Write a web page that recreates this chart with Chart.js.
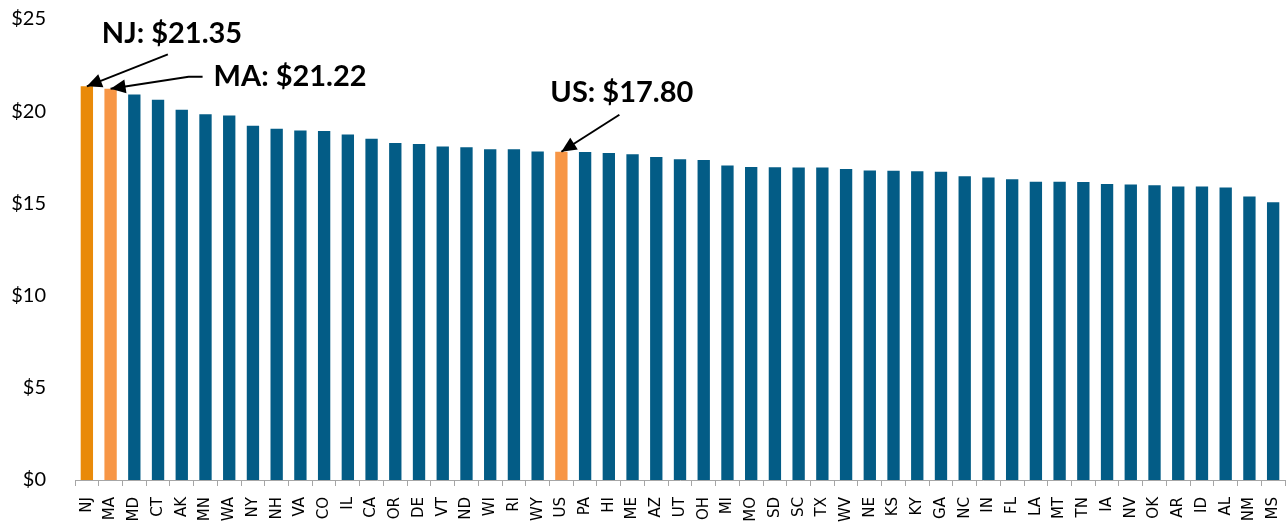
<!DOCTYPE html>
<html>
<head>
<meta charset="utf-8">
<script src="https://cdn.jsdelivr.net/npm/chart.js@4.4.1/dist/chart.umd.min.js"></script>
<style>
  html, body { margin: 0; padding: 0; background: #ffffff; }
  #wrap { width: 1288px; height: 525px; position: relative; }
</style>
</head>
<body>
<div id="wrap"><canvas id="c" width="1288" height="525"></canvas></div>
<script>
const states = ["NJ","MA","MD","CT","AK","MN","WA","NY","NH","VA","CO","IL","CA","OR","DE","VT","ND","WI","RI","WY","US","PA","HI","ME","AZ","UT","OH","MI","MO","SD","SC","TX","WV","NE","KS","KY","GA","NC","IN","FL","LA","MT","TN","IA","NV","OK","AR","ID","AL","NM","MS"];
const wages = [21.35,21.22,20.91,20.62,20.08,19.83,19.77,19.21,19.05,18.96,18.93,18.74,18.50,18.27,18.22,18.09,18.04,17.93,17.93,17.82,17.80,17.79,17.73,17.66,17.52,17.39,17.35,17.06,16.97,16.96,16.95,16.95,16.87,16.79,16.77,16.74,16.72,16.47,16.41,16.31,16.18,16.18,16.16,16.05,16.03,15.98,15.91,15.91,15.86,15.37,15.06];
const yTicks = [0,5,10,15,20,25];
const callouts = [
  { code: "NJ", label: "NJ: $21.35" },
  { code: "MA", label: "MA: $21.22" },
  { code: "US", label: "US: $17.80" }
];

const BLUE = "#035C86";
const DARK_ORANGE = "#E98A09";
const LIGHT_ORANGE = "#F79646";
const colors = states.map(s => s === "NJ" ? DARK_ORANGE : (s === "MA" || s === "US") ? LIGHT_ORANGE : BLUE);

// layout offsets for callout text/arrows (relative to the bar top-centre)
const calloutLayout = {
  NJ: { textX: 15, textY: -53, path: [[81, -32]] },
  MA: { textX: 103, textY: -12, path: [[92, -12], [78, -12]] },
  US: { textX: -11, textY: -59, path: [[58, -37]] }
};

function drawArrow(ctx, pts) {
  ctx.beginPath();
  ctx.moveTo(pts[0][0], pts[0][1]);
  for (let i = 1; i < pts.length; i++) ctx.lineTo(pts[i][0], pts[i][1]);
  ctx.stroke();
  const tip = pts[pts.length - 1];
  const prev = pts[pts.length - 2];
  const ang = Math.atan2(tip[1] - prev[1], tip[0] - prev[0]);
  const len = 15, half = 7;
  const bx = tip[0] - len * Math.cos(ang), by = tip[1] - len * Math.sin(ang);
  ctx.beginPath();
  ctx.moveTo(tip[0], tip[1]);
  ctx.lineTo(bx + half * Math.sin(ang), by - half * Math.cos(ang));
  ctx.lineTo(bx - half * Math.sin(ang), by + half * Math.cos(ang));
  ctx.closePath();
  ctx.fill();
}

const calloutPlugin = {
  id: "callouts",
  afterDatasetsDraw(chart) {
    const ctx = chart.ctx;
    const xs = chart.scales.x, ys = chart.scales.y;
    ctx.save();
    ctx.strokeStyle = "#000";
    ctx.fillStyle = "#000";
    ctx.lineWidth = 2;
    callouts.forEach(c => {
      const i = states.indexOf(c.code);
      const tx = xs.getPixelForValue(i);
      const ty = ys.getPixelForValue(wages[i]);
      const L = calloutLayout[c.code];
      const pts = L.path.map(p => [tx + p[0], ty + p[1]]);
      pts.push([tx, ty]);
      drawArrow(ctx, pts);
      ctx.font = "bold 29px Lato";
      ctx.textAlign = "left";
      ctx.textBaseline = "middle";
      ctx.fillText(c.label, tx + L.textX, ty + L.textY);
    });
    ctx.restore();
  }
};

new Chart(document.getElementById("c"), {
  type: "bar",
  data: {
    labels: states,
    datasets: [{
      data: wages,
      backgroundColor: colors,
      borderWidth: 0,
      barPercentage: 0.52,
      categoryPercentage: 1.0
    }]
  },
  options: {
    responsive: false,
    animation: false,
    layout: { padding: { top: 19, right: 3, left: 0, bottom: 0 } },
    plugins: { legend: { display: false }, tooltip: { enabled: false } },
    scales: {
      x: {
        grid: { display: true, drawOnChartArea: false, offset: true, tickLength: 6, color: "#A6A6A6", lineWidth: 1 },
        border: { display: true, color: "#A6A6A6", width: 1 },
        ticks: {
          minRotation: 90, maxRotation: 90, autoSkip: false, padding: 11,
          color: "#000", font: { family: "DejaVu Sans", size: 15 }
        },
        afterFit(scale) {
          scale.height = 45;
          scale.paddingTop = 0; scale.paddingBottom = 0;
          scale.paddingLeft = 0; scale.paddingRight = 0;
        }
      },
      y: {
        min: 0, max: 25,
        afterBuildTicks(scale) { scale.ticks = yTicks.map(v => ({ value: v })); },
        grid: { display: false, drawTicks: false },
        border: { display: false },
        ticks: {
          padding: 29, color: "#000",
          font: { family: "Lato", size: 20 },
          callback: v => "$" + v
        },
        afterFit(scale) {
          scale.width = 75;
          scale.paddingTop = 0; scale.paddingBottom = 0;
          scale.paddingLeft = 0; scale.paddingRight = 0;
        }
      }
    }
  },
  plugins: [calloutPlugin]
});
</script>
</body>
</html>
